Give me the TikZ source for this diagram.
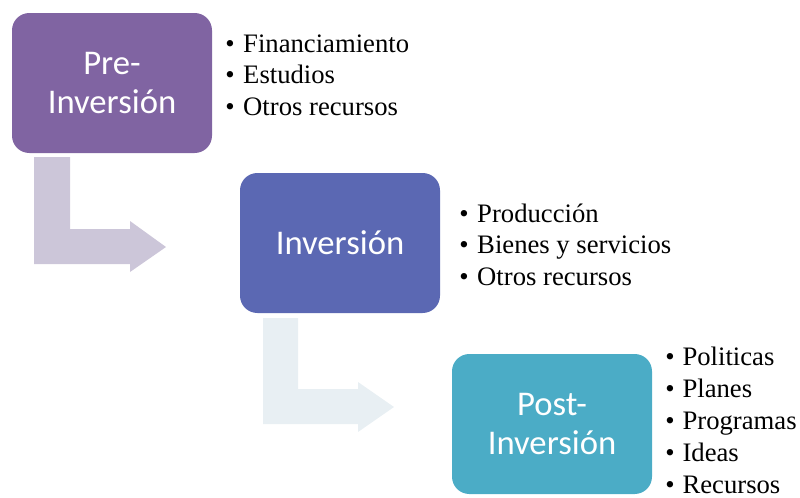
\documentclass[tikz,border=0pt]{standalone}
\usepackage{fontspec}
\setmainfont{Liberation Serif}
\newfontfamily\rotulo{Carlito}
\usetikzlibrary{positioning}
\definecolor{morado}{HTML}{8064A2}
\definecolor{azul}{HTML}{5B68B3}
\definecolor{celeste}{HTML}{4BACC6}
\definecolor{moradoclaro}{HTML}{CCC6D9}
\definecolor{celesteclaro}{HTML}{E8EFF3}
\tikzset{fase/.style={rectangle,rounded corners=13pt,minimum width=150pt,minimum height=105pt,text=white,align=center,inner sep=0pt,font=\rotulo\fontsize{26}{29}\selectfont},
  item/.style={anchor=base west,inner sep=0pt,font=\fontsize{20}{24}\selectfont}}

\begin{document}
\begin{tikzpicture}[x=0.75pt,y=-0.75pt]
        \useasboundingbox (0,0) rectangle (800,497);

        % flechas
        \fill[moradoclaro] (34,157) -- (70,157) -- (70,229) -- (130,229) -- (130,221) -- (166,247) -- (130,272) -- (130,264) -- (34,264) -- cycle;
        \fill[celesteclaro] (263,318) -- (298,318) -- (298,389) -- (358,389) -- (358,382) -- (394,407) -- (358,432) -- (358,424) -- (263,424) -- cycle;

        % fases
        \node[fase,fill=morado] (pre) at (112,83) {Pre-\\Inversión};
        \node[fase,fill=azul] (inv) at (340,243) {Inversión};
        \node[fase,fill=celeste] (post) at (552,424) {Post-\\Inversión};

        % listas
        \foreach \t [count=\i] in {Financiamiento,Estudios,Otros recursos}
            \node[item] (pre\i) at (225,{52+31.5*(\i-1)}) {\makebox[13.5pt][l]{\textbullet}\t};
        \foreach \t [count=\i] in {Producción,Bienes y servicios,Otros recursos}
            \node[item] (inv\i) at (459,{222+31.5*(\i-1)}) {\makebox[13.5pt][l]{\textbullet}\t};
        \foreach \t [count=\i] in {Politicas,Planes,Programas,Ideas,Recursos}
            \node[item] (post\i) at (665,{365+32*(\i-1)}) {\makebox[13pt][l]{\textbullet}\t};

    \end{tikzpicture}
\end{document}
